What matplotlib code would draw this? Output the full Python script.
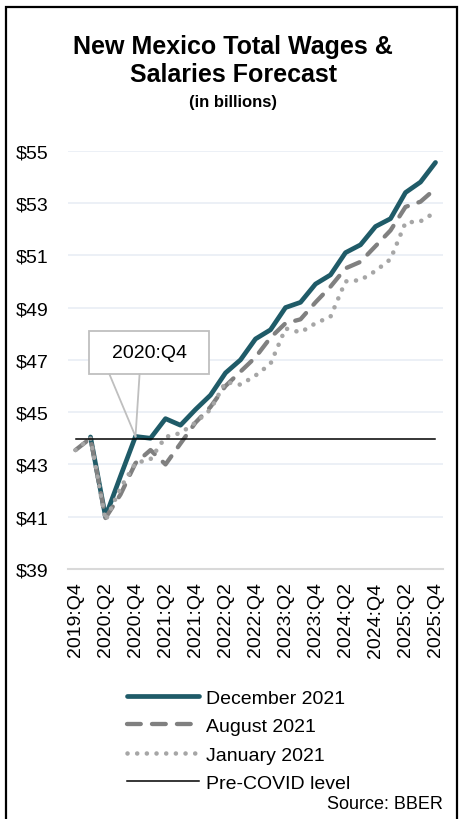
import numpy as np
import matplotlib
matplotlib.use("Agg")
import matplotlib.pyplot as plt
from matplotlib.patches import Rectangle

plt.rcParams['font.family'] = ['Liberation Sans', 'DejaVu Sans']

# quarterly data, 2019:Q4 .. 2025:Q4 (billions of dollars)
quarters = ["2019:Q4",
            "2020:Q1", "2020:Q2", "2020:Q3", "2020:Q4",
            "2021:Q1", "2021:Q2", "2021:Q3", "2021:Q4",
            "2022:Q1", "2022:Q2", "2022:Q3", "2022:Q4",
            "2023:Q1", "2023:Q2", "2023:Q3", "2023:Q4",
            "2024:Q1", "2024:Q2", "2024:Q3", "2024:Q4",
            "2025:Q1", "2025:Q2", "2025:Q3", "2025:Q4"]
december_2021 = [np.nan, 44.05, 41.0, 42.55, 44.07,
                 44.0, 44.75, 44.5, 45.1,
                 45.65, 46.5, 47.0, 47.8,
                 48.15, 49.0, 49.2, 49.9,
                 50.25, 51.1, 51.4, 52.1,
                 52.4, 53.4, 53.8, 54.55]
august_2021 = [43.55, 44.0, 40.95, 41.85, 43.05,
               43.55, 43.0, 43.8, 44.6,
               45.2, 46.0, 46.55, 47.1,
               47.85, 48.4, 48.55, 49.2,
               49.8, 50.5, 50.75, 51.35,
               51.95, 52.85, 53.05, 53.55]
january_2021 = [43.55, 44.0, 40.85, 42.1, 43.05,
                43.2, 44.05, 44.2, 44.6,
                45.1, 46.15, 46.05, 46.4,
                46.85, 48.2, 48.05, 48.4,
                48.65, 50.0, 50.05, 50.4,
                50.85, 52.25, 52.3, 52.65]
pre_covid_level = 43.97
y_ticks = [39, 41, 43, 45, 47, 49, 51, 53, 55]
callout_label = "2020:Q4"

x = np.arange(len(quarters))

fig = plt.figure(figsize=(4.6, 8.2), dpi=100)
ax = fig.add_axes([68 / 460, 1 - 570 / 820, 375 / 460, (570 - 151.7) / 820])

ax.plot(x, december_2021, color='#1F5B68', lw=3.4, solid_capstyle='round',
        solid_joinstyle='round', label='December 2021', zorder=3)
ax.plot(x, august_2021, color='#808080', lw=3.1, dashes=(3.2, 2.6),
        dash_capstyle='round', label='August 2021', zorder=4)
ax.plot(x, january_2021, color='#A6A6A6', lw=3.3, dashes=(0.01, 2.1),
        dash_capstyle='round', label='January 2021', zorder=5)
ax.plot(x, [pre_covid_level] * len(x), color='black', lw=1.1,
        label='Pre-COVID level', zorder=6)

ax.set_xlim(-0.5, len(x) - 0.5)
ax.set_ylim(39, 55)
ax.set_yticks(y_ticks)
ax.set_yticklabels([f"${v}" for v in y_ticks])
ax.set_xticks(x[::2])
ax.set_xticklabels(quarters[::2], rotation=90)
ax.tick_params(axis='y', length=0, pad=14, labelsize=14)
ax.tick_params(axis='x', length=0, pad=9, labelsize=14)
ax.grid(axis='y', color='#E9EEF5', lw=1.2)
ax.set_axisbelow(True)
for s in ['left', 'right', 'top']:
    ax.spines[s].set_visible(False)
ax.spines['bottom'].set_color('#D9D9D9')
ax.spines['bottom'].set_linewidth(1.5)

# callout box pointing at December forecast, 2020:Q4
i4 = quarters.index(callout_label)
box = Rectangle((0.93, 46.44), 8.0, 1.68, fc='white', ec='#BFBFBF', lw=1.3, zorder=7)
ax.add_patch(box)
ax.text(0.93 + 4.0, 46.44 + 0.84, callout_label, ha='center', va='center',
        fontsize=14, zorder=8)
for bx in (2.27, 4.27):
    ax.plot([bx, i4], [46.44, december_2021[i4]], color='#BFBFBF', lw=1.3, zorder=7)

fig.text(0.507, 1 - 47 / 820, "New Mexico Total Wages &", ha='center', va='center',
         fontsize=18, fontweight='bold')
fig.text(0.507, 1 - 75 / 820, "Salaries Forecast", ha='center', va='center',
         fontsize=18, fontweight='bold')
fig.text(0.507, 1 - 102 / 820, "(in billions)", ha='center', va='center',
         fontsize=12, fontweight='bold')

fig.legend(loc='upper left', bbox_to_anchor=(127 / 460, 1 - 690 / 820),
           frameon=False, fontsize=14, handlelength=3.7, handletextpad=0.35,
           labelspacing=0.56, borderpad=0, borderaxespad=0)

fig.text(443 / 460, 1 - 805 / 820, "Source: BBER", ha='right', va='center', fontsize=13)

fig.patches.append(Rectangle((6 / 460, -0.02), 451 / 460, 1 - 8 / 820 + 0.02,
                             transform=fig.transFigure, fill=False, ec='black', lw=1.6))

fig.savefig('out.png', dpi=100)
